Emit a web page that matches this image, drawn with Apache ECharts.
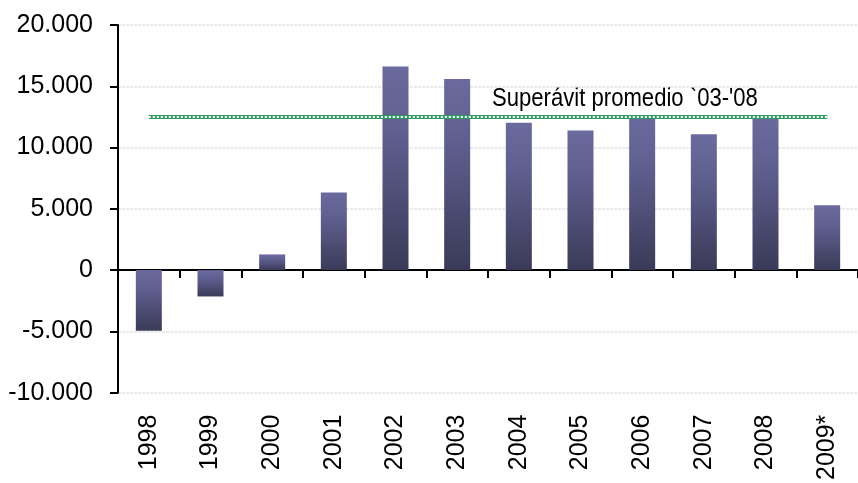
<!DOCTYPE html>
<html>
<head>
<meta charset="utf-8">
<script src="https://cdn.jsdelivr.net/npm/echarts@6/dist/echarts.min.js"></script>
<style>html,body{margin:0;padding:0;background:#fff}#c{width:858px;height:483px}</style>
</head>
<body>
<div id="c"></div>
<script>
var categories = ['1998','1999','2000','2001','2002','2003','2004','2005','2006','2007','2008','2009*'];
var balance = [-4950, -2150, 1280, 6330, 16620, 15600, 12030, 11400, 12480, 11080, 12420, 5300];
var averageValue = 12550;
var averageLabel = "Superávit promedio `03-'08";
var yMin = -10000, yMax = 20000, yStep = 5000;

var font = 'Liberation Sans, Arial, sans-serif';
var chart = echarts.init(document.getElementById('c'), null, {renderer: 'canvas'});
var barGrad = new echarts.graphic.LinearGradient(0, 0, 0, 1, [
  {offset: 0, color: '#6a6a9e'},
  {offset: 0.35, color: '#5e5e8e'},
  {offset: 1, color: '#3a3a58'}
]);
chart.setOption({
  animation: false,
  backgroundColor: '#ffffff',
  grid: {left: 118, right: -4, top: 25, bottom: 86, containLabel: false},
  xAxis: [{
    type: 'category',
    data: categories,
    boundaryGap: true,
    axisLine: {show: true, onZero: true, lineStyle: {color: '#000', width: 2}},
    axisTick: {show: true, length: 8, inside: false, lineStyle: {color: '#000', width: 2}},
    axisLabel: {show: false},
    splitLine: {show: false}
  }, {
    type: 'category',
    data: categories,
    position: 'bottom',
    boundaryGap: true,
    axisLine: {show: false, onZero: false},
    axisTick: {show: false},
    axisLabel: {show: true, rotate: 90, margin: 22, color: '#000', fontSize: 25, fontFamily: font},
    splitLine: {show: false}
  }],
  yAxis: {
    type: 'value',
    min: yMin, max: yMax, interval: yStep,
    axisLine: {show: true, lineStyle: {color: '#000', width: 2}},
    axisTick: {show: true, length: 8, lineStyle: {color: '#000', width: 2}},
    axisLabel: {
      color: '#000', fontSize: 25, fontFamily: font, margin: 25,
      formatter: function (v) {
        if (v === 0) return '0';
        var s = Math.abs(v).toString().replace(/\B(?=(\d{3})+(?!\d))/g, '.');
        return (v < 0 ? '-' : '') + s;
      }
    },
    splitLine: {show: true, lineStyle: {color: '#e4e4e4', width: 1.5, type: [3, 1]}}
  },
  series: [{
    type: 'bar',
    xAxisIndex: 0,
    data: balance,
    barWidth: 26,
    itemStyle: {color: barGrad},
    markLine: {
      silent: true,
      symbol: ['none', 'none'],
      label: {show: false},
      data: [
        [{coord: ['1998', averageValue], lineStyle: {color: '#2e9a62', width: 4, type: 'solid'}},
         {coord: ['2009*', averageValue]}],
        [{coord: ['1998', averageValue], lineStyle: {color: '#ffffff', width: 2, type: [2, 2]}},
         {coord: ['2009*', averageValue]}]
      ]
    }
  }],
  graphic: [{
    type: 'text',
    left: 492, top: 86,
    scaleX: 0.85,
    style: {text: averageLabel, fill: '#000', font: '26px ' + font}
  }]
});
</script>
</body>
</html>
